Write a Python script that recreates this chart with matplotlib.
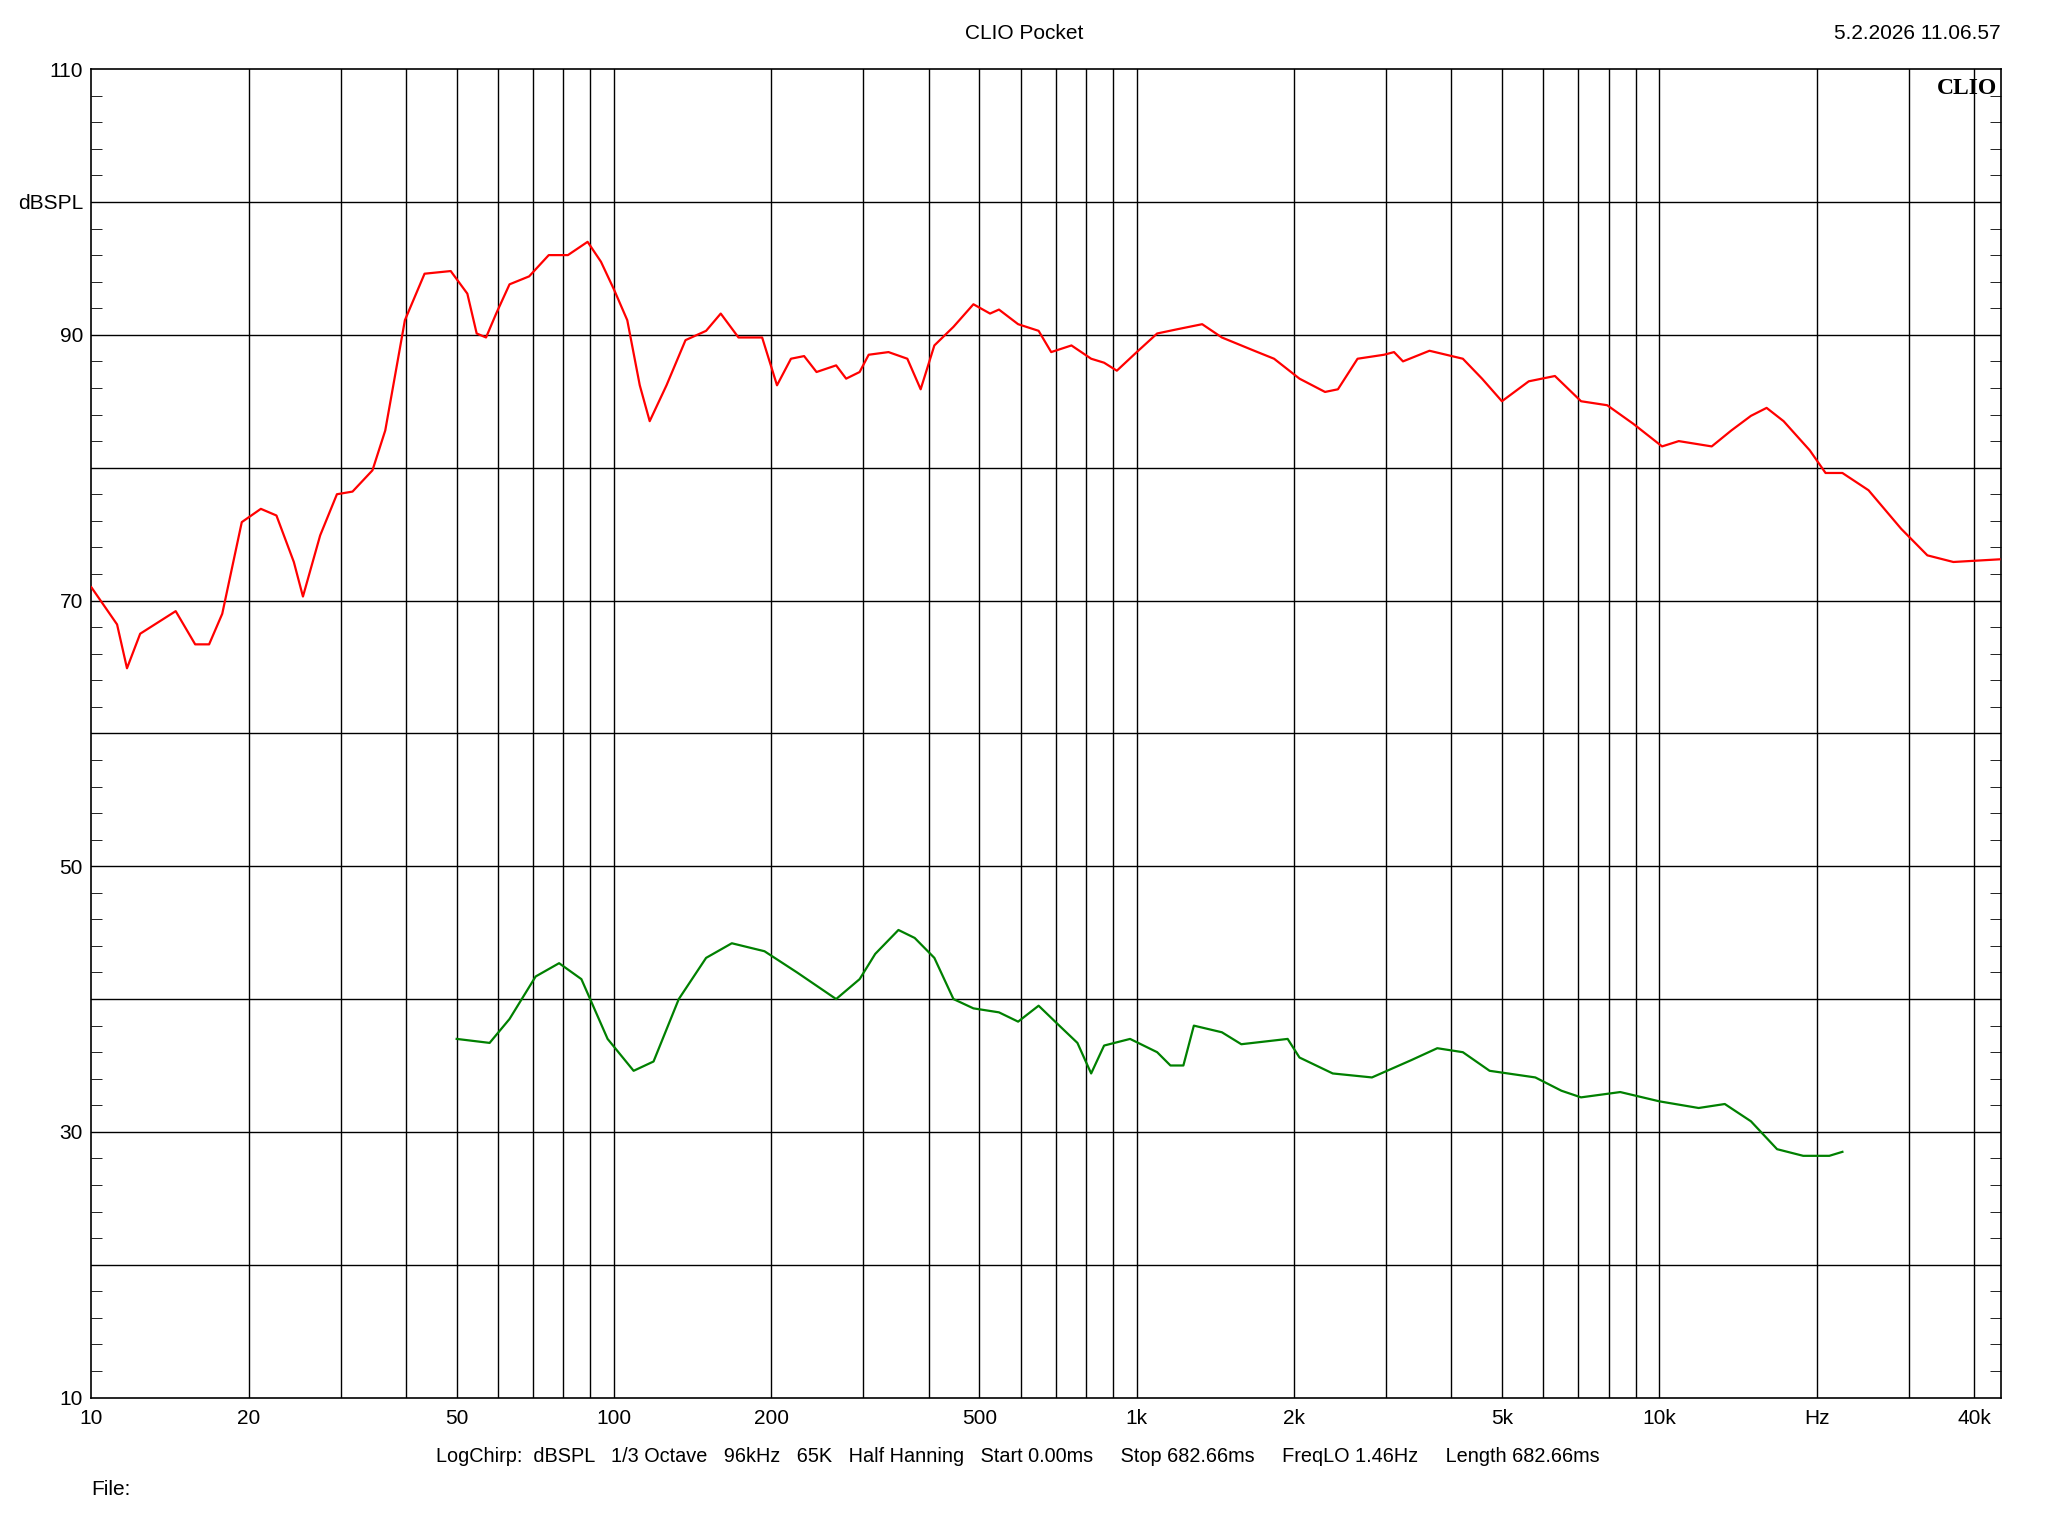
import matplotlib
matplotlib.use("Agg")
import matplotlib.pyplot as plt
from matplotlib.ticker import FixedLocator, NullFormatter, MultipleLocator

plt.rcParams['font.family'] = ['Liberation Sans', 'DejaVu Sans']

red_f = [10,11.2,11.7,12.4,14.5,15.8,16.8,17.8,19.4,21.1,22.6,24.4,25.4,27.4,29.5,31.6,34.5,36.5,39.8,43.4,48.7,52.4,54.6,56.9,59.5,63.1,68.8,75,81.6,89,94.4,100,106,112,117,126,137,150,160,173,192,205,218,231,244,266,278,295,307,335,364,386,410,446,487,524,545,593,649,686,750,818,866,916,1000,1094,1189,1334,1455,1678,1831,2048,2292,2426,2645,2972,3106,3231,3631,4206,4577,4996,5623,6310,7079,7943,8913,10116,10887,12589,13725,14962,16032,17278,19394,20785,22387,25119,29000,32550,36500,44700]
red_db = [71,68.2,64.9,67.5,69.2,66.7,66.7,69,75.9,76.9,76.4,72.9,70.3,74.9,78,78.2,79.8,82.8,91.1,94.6,94.8,93.1,90.1,89.8,91.6,93.8,94.4,96,96,97,95.5,93.4,91.1,86.2,83.5,86.2,89.6,90.3,91.6,89.8,89.8,86.2,88.2,88.4,87.2,87.7,86.7,87.2,88.5,88.7,88.2,85.9,89.2,90.6,92.3,91.6,91.9,90.8,90.3,88.7,89.2,88.2,87.9,87.3,88.7,90.1,90.4,90.8,89.8,88.8,88.2,86.7,85.7,85.9,88.2,88.5,88.7,88,88.8,88.2,86.7,85,86.5,86.9,85,84.7,83.3,81.6,82,81.6,82.8,83.9,84.5,83.5,81.3,79.6,79.6,78.3,75.4,73.4,72.9,73.1]

green_f = [50,57.8,63.1,70.8,78.5,86.6,97.2,109,119,133,150,168,194,224,266,295,316,350,376,410,446,487,545,593,649,698,770,818,866,971,1094,1160,1228,1286,1455,1585,1944,2048,2371,2818,3350,3758,4206,4732,5788,6493,7079,8414,10000,11885,13335,14962,16788,18836,21134,22387]
green_db = [37,36.7,38.5,41.7,42.7,41.5,37,34.6,35.3,40,43.1,44.2,43.6,42,40,41.5,43.4,45.2,44.6,43.1,40,39.3,39,38.3,39.5,38.3,36.7,34.4,36.5,37,36,35,35,38,37.5,36.6,37,35.6,34.4,34.1,35.4,36.3,36,34.6,34.1,33.1,32.6,33,32.3,31.8,32.1,30.8,28.7,28.2,28.2,28.5]

x_ticks = [10,20,50,100,200,500,1000,2000,5000,10000,20000,40000]
x_labels = ["10","20","50","100","200","500","1k","2k","5k","10k","Hz","40k"]
y_ticks = [10,30,50,70,90,100,110]
y_labels = ["10","30","50","70","90","dBSPL","110"]

fig = plt.figure(figsize=(20.48,15.36), dpi=100)
ax = fig.add_axes([0.0446,0.0901,0.9324,0.8649])
ax.set_xscale("log")
ax.set_xlim(10,45000)
ax.set_ylim(10,110)

grid_x = [v*m for m in (10,100,1000,10000) for v in range(1,10)]
grid_x = [g for g in grid_x if 10 < g <= 45000]
for g in grid_x:
    ax.axvline(g, color="black", lw=1.0, zorder=1)
for g in range(20,110,10):
    ax.axhline(g, color="black", lw=1.0, zorder=1)

ax.plot(red_f, red_db, color="#ff0000", lw=1.6, zorder=3)
ax.plot(green_f, green_db, color="#008000", lw=1.6, zorder=3)

ax.xaxis.set_major_locator(FixedLocator(x_ticks))
ax.set_xticklabels(x_labels, fontsize=15)
ax.xaxis.set_minor_locator(FixedLocator([]))
ax.xaxis.set_minor_formatter(NullFormatter())
ax.set_yticks(y_ticks)
ax.set_yticklabels(y_labels, fontsize=15)
ax.yaxis.set_minor_locator(MultipleLocator(2))
ax.tick_params(axis="y", which="both", direction="in", right=True, length=8)
ax.tick_params(axis="y", which="major", length=0, pad=6)
ax.tick_params(axis="x", length=0, pad=8)
for s in ax.spines.values():
    s.set_linewidth(1.2)

ax.text(0.998, 0.993, "CLIO", transform=ax.transAxes, ha="right", va="top",
        fontsize=17, fontweight="bold", family="Liberation Serif")
fig.text(0.5, 0.978, "CLIO Pocket", ha="center", va="center", fontsize=15)
fig.text(0.977, 0.978, "5.2.2026 11.06.57", ha="right", va="center", fontsize=15)
fig.text(0.497, 0.052, "LogChirp:  dBSPL   1/3 Octave   96kHz   65K   Half Hanning   Start 0.00ms     Stop 682.66ms     FreqLO 1.46Hz     Length 682.66ms",
         ha="center", va="center", fontsize=14.3)
fig.text(0.0446, 0.030, "File:", ha="left", va="center", fontsize=15)
fig.savefig("out.png", dpi=100, facecolor="white")
